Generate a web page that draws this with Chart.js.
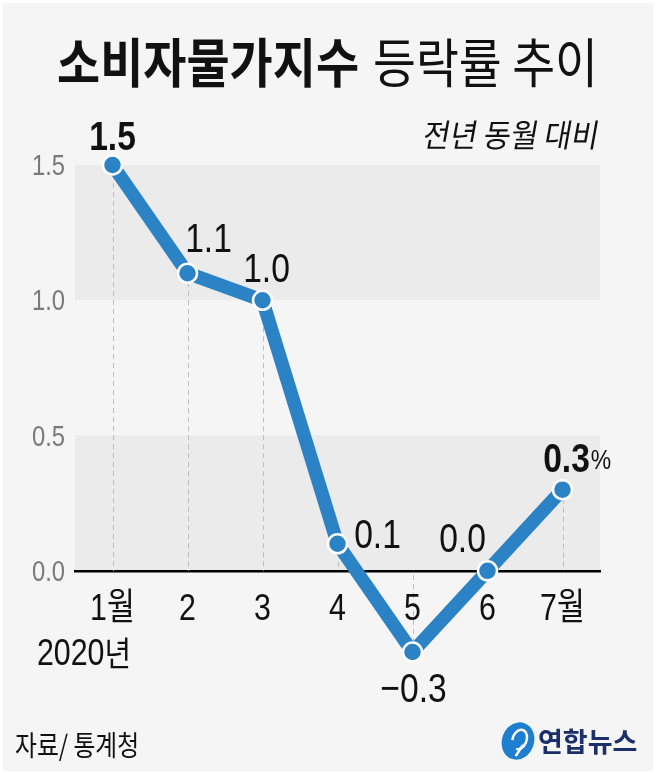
<!DOCTYPE html>
<html>
<head>
<meta charset="utf-8">
<title>소비자물가지수 등락률 추이</title>
<script src="https://cdn.jsdelivr.net/npm/chart.js@4.4.1/dist/chart.umd.min.js"></script>
<style>
  html, body { margin: 0; padding: 0; background: #ffffff; }
  canvas { display: block; }
</style>
</head>
<body>
<canvas id="cpiChart" width="659" height="773"></canvas>
<script>
// data (전년 동월 대비, %)
const months = ['1월', '2', '3', '4', '5', '6', '7월'];
const cpiChange = [1.5, 1.1, 1.0, 0.1, -0.3, 0.0, 0.3];
const yTickValues = [0, 0.5, 1.0, 1.5];
const shadedBands = [[0, 0.5], [1.0, 1.5]];

// where each value label sits relative to its point (dx, dy to baseline)
const labelOffsets = [[0, -15], [21, -21], [4, -18], [40, 4], [1, 50], [-25, -19], [4, -18]];
const boldLabels = [true, false, false, false, false, false, true];

const NUM_FONT = "'Liberation Sans', 'Noto Sans CJK KR', sans-serif";
const KR_FONT = "'Noto Sans CJK KR', 'Noto Sans', sans-serif";
const NARROW = 0.82; // the original uses a condensed face
const BLUE = '#2b83c6';

// draws text squeezed horizontally (and optionally slanted), returns drawn width
function drawText(ctx, text, x, y, font, color, sx, align, skew) {
    ctx.save();
    ctx.font = font;
    ctx.fillStyle = color;
    ctx.textBaseline = 'alphabetic';
    ctx.textAlign = align || 'left';
    ctx.setTransform(sx, 0, skew || 0, 1, x, y);
    ctx.fillText(text, 0, 0);
    const w = ctx.measureText(text).width * sx;
    ctx.restore();
    return w;
}

const backgroundPlugin = {
    id: 'background',
    beforeDraw(chart) {
        const ctx = chart.ctx;
        const area = chart.chartArea;
        const y = chart.scales.y;
        ctx.save();
        ctx.fillStyle = '#ffffff';
        ctx.fillRect(0, 0, chart.width, chart.height);
        ctx.fillStyle = '#f5f5f5';
        ctx.fillRect(3, 3, 650, 768);
        ctx.fillStyle = '#ebebeb';
        shadedBands.forEach(b => {
            const top = y.getPixelForValue(b[1]);
            const bottom = y.getPixelForValue(b[0]);
            ctx.fillRect(area.left, top, area.right - area.left, bottom - top);
        });
        ctx.restore();
    },
    beforeDatasetsDraw(chart) {
        const ctx = chart.ctx;
        const zero = chart.scales.y.getPixelForValue(0);
        const meta = chart.getDatasetMeta(0);
        ctx.save();
        ctx.strokeStyle = '#bdbdbd';
        ctx.lineWidth = 1;
        ctx.setLineDash([5, 4]);
        meta.data.forEach(pt => {
            const x = Math.round(pt.x) + 0.5;
            ctx.beginPath();
            ctx.moveTo(x, pt.y);
            ctx.lineTo(x, zero);
            ctx.stroke();
        });
        ctx.restore();
    }
};

// tick labels, drawn from the scales' own ticks in the condensed style
const tickPlugin = {
    id: 'condensedTicks',
    afterDraw(chart) {
        const ctx = chart.ctx;
        const xs = chart.scales.x;
        const ys = chart.scales.y;
        const zero = ys.getPixelForValue(0);
        xs.ticks.forEach((t, i) => {
            drawText(ctx, xs.getLabelForValue(t.value), xs.getPixelForTick(i), zero + 49,
                '37px ' + NUM_FONT, '#111111', NARROW, 'center');
        });
        ys.ticks.forEach((t, i) => {
            drawText(ctx, t.value.toFixed(1), 65, ys.getPixelForTick(i) + 10,
                '29px ' + NUM_FONT, '#7a7a7a', NARROW, 'right');
        });
    }
};

const labelsPlugin = {
    id: 'valueLabels',
    afterDatasetsDraw(chart) {
        const ctx = chart.ctx;
        const meta = chart.getDatasetMeta(0);
        meta.data.forEach((pt, i) => {
            const v = cpiChange[i];
            const txt = (v < 0 ? '\u2212' : '') + Math.abs(v).toFixed(1);
            const off = labelOffsets[i];
            const font = (boldLabels[i] ? 'bold ' : '') + '41px ' + NUM_FONT;
            const x = pt.x + off[0];
            const yb = pt.y + off[1];
            const w = drawText(ctx, txt, x, yb, font, '#111111', NARROW, 'center');
            if (i === cpiChange.length - 1) {
                drawText(ctx, '%', x + w / 2 + 1, yb - 3, '28px ' + NUM_FONT, '#111111', NARROW, 'left');
            }
        });
    },
    afterDraw(chart) {
        const ctx = chart.ctx;
        // title
        drawText(ctx, '소비자물가지수', 57, 83, 'bold 53px ' + KR_FONT, '#111111', 0.885);
        drawText(ctx, '등락률 추이', 373, 83, '400 53px ' + KR_FONT, '#111111', 0.88);
        // unit note
        drawText(ctx, '전년 동월 대비', 597, 147, '400 32px ' + KR_FONT, '#111111', 0.92, 'right', -0.18);
        // year under first month
        const w = drawText(ctx, '2020', 37, 665, '37px ' + NUM_FONT, '#111111', NARROW);
        drawText(ctx, '년', 37 + w, 666, '400 34px ' + KR_FONT, '#111111', 0.85);
        // source
        drawText(ctx, '자료/ 통계청', 15, 756, '400 28px ' + KR_FONT, '#111111', 0.85);
        // logo
        ctx.save();
        ctx.translate(518, 741);
        ctx.rotate(0.35);
        ctx.fillStyle = '#1e7fd0';
        ctx.beginPath();
        ctx.ellipse(0, 0, 16, 19, 0, 0, Math.PI * 2);
        ctx.fill();
        ctx.strokeStyle = '#ffffff';
        ctx.lineWidth = 2.5;
        ctx.beginPath();
        ctx.ellipse(1, -2, 7, 10, 0, Math.PI * 0.9, Math.PI * 2.5);
        ctx.stroke();
        ctx.beginPath();
        ctx.moveTo(6, 2);
        ctx.lineTo(3, 15);
        ctx.stroke();
        ctx.restore();
        drawText(ctx, '연합뉴스', 538, 752, 'bold 27px ' + KR_FONT, '#1c2f6b', 1.0);
    }
};

const ctx = document.getElementById('cpiChart').getContext('2d');
new Chart(ctx, {
    type: 'line',
    data: {
        labels: months,
        datasets: [{
            data: cpiChange,
            borderColor: BLUE,
            borderWidth: 13.5,
            borderJoinStyle: 'round',
            borderCapStyle: 'round',
            tension: 0,
            pointRadius: 9.5,
            pointHoverRadius: 9.5,
            pointBackgroundColor: BLUE,
            pointBorderColor: '#ffffff',
            pointBorderWidth: 2.5,
            clip: false
        }]
    },
    options: {
        responsive: false,
        animation: false,
        devicePixelRatio: 1,
        events: [],
        layout: { padding: { top: 165, right: 59, bottom: 121, left: 0 } },
        scales: {
            x: {
                type: 'category',
                offset: true,
                position: { y: 0 },
                afterFit: s => { s.height = 0; },
                grid: { display: false, drawTicks: false },
                border: { display: true, color: '#000000', width: 2.5 },
                ticks: { display: false, autoSkip: false, maxRotation: 0 }
            },
            y: {
                min: -0.3,
                max: 1.5,
                afterFit: s => { s.width = 75; },
                afterBuildTicks: s => { s.ticks = yTickValues.map(v => ({ value: v })); },
                grid: { display: false, drawTicks: false },
                border: { display: false },
                ticks: { display: false }
            }
        },
        plugins: {
            legend: { display: false },
            tooltip: { enabled: false },
            title: { display: false }
        }
    },
    plugins: [backgroundPlugin, tickPlugin, labelsPlugin]
});
</script>
</body>
</html>
